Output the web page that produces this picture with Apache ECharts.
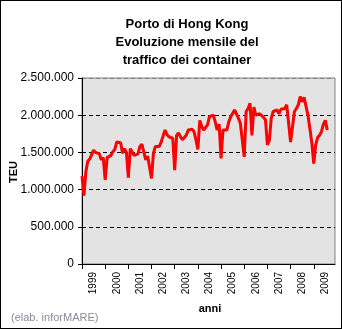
<!DOCTYPE html>
<html>
<head>
<meta charset="utf-8">
<script src="https://cdn.jsdelivr.net/npm/echarts@6/dist/echarts.min.js"></script>
<style>
html,body{margin:0;padding:0;background:#fff;}
#wrap{width:340px;height:327px;border:1px solid #000;position:relative;}
#chart{width:340px;height:327px;}
</style>
</head>
<body>
<div id="wrap"><div id="chart"></div></div>
<script>
// Years shown on the axis
var years = ['1999','2000','2001','2002','2003','2004','2005','2006','2007','2008','2009'];
// Monthly TEU (millions), Jan 1999 ... Aug 2009
var teu1999 = [1.18, 0.92, 1.24, 1.38, 1.41, 1.42, 1.53, 1.50, 1.51, 1.48, 1.40, 1.43];
var teu2000 = [1.13, 1.43, 1.44, 1.46, 1.51, 1.54, 1.64, 1.64, 1.63, 1.49, 1.55, 1.50];
var teu2001 = [1.16, 1.55, 1.54, 1.46, 1.44, 1.48, 1.58, 1.61, 1.62, 1.40, 1.45, 1.43];
var teu2002 = [1.15, 1.49, 1.58, 1.56, 1.58, 1.64, 1.72, 1.80, 1.74, 1.71, 1.71, 1.69];
var teu2003 = [1.26, 1.73, 1.76, 1.71, 1.67, 1.67, 1.73, 1.80, 1.78, 1.81, 1.78, 1.67];
var teu2004 = [1.54, 1.93, 1.85, 1.80, 1.81, 1.87, 1.98, 1.96, 2.00, 1.91, 1.80, 1.88];
var teu2005 = [1.42, 1.80, 1.82, 1.80, 1.91, 1.98, 1.97, 2.07, 2.07, 1.96, 1.89, 1.89];
var teu2006 = [1.44, 2.05, 2.09, 2.16, 1.73, 2.11, 2.00, 1.98, 2.02, 2.02, 1.97, 1.94];
var teu2007 = [1.60, 1.66, 1.96, 2.05, 2.05, 2.07, 2.02, 2.08, 2.07, 2.09, 2.14, 2.12];
var teu2008 = [1.64, 1.66, 2.05, 2.09, 2.14, 2.25, 2.18, 2.24, 2.23, 2.00, 1.82, 1.63];
var teu2009 = [1.35, 1.60, 1.70, 1.73, 1.78, 1.88, 1.93, 1.80];

var series = [].concat(teu1999, teu2000, teu2001, teu2002, teu2003, teu2004,
  teu2005, teu2006, teu2007, teu2008, teu2009).map(function(v){ return Math.round(v*1e6); });

var categories = [];
years.forEach(function(y){ for (var m = 1; m <= 12; m++) categories.push(y + '-' + (m < 10 ? '0' + m : m)); });
var data = categories.map(function(c, i){ return i < series.length ? series[i] : null; });

function fmt(v){
  return String(v).replace(/\B(?=(\d{3})+(?!\d))/g, '.');
}

var chart = echarts.init(document.getElementById('chart'));
chart.setOption({
  animation: false,
  backgroundColor: '#fff',
  textStyle: {fontFamily: 'Liberation Sans, Arial, sans-serif'},
  grid: {left: 81, top: 77, width: 253, height: 186, show: true, containLabel: false,
    outerBoundsMode: 'none',
    backgroundColor: '#e3e3e3', borderColor: '#808080', borderWidth: 1},
  xAxis: {
    type: 'category', data: categories, boundaryGap: false,
    axisLine: {lineStyle: {color: '#000', width: 1}},
    axisTick: {show: true, length: 5, lineStyle: {color: '#000'},
      interval: function(i){ return i % 12 === 0; }},
    axisLabel: {rotate: 90, fontSize: 10, color: '#000', margin: 8,
      fontFamily: 'Liberation Sans, Arial',
      interval: function(i){ return i % 12 === 6; },
      formatter: function(v){ return v.slice(0,4); }},
    splitLine: {show: false}
  },
  yAxis: {
    type: 'value', min: 0, max: 2500000, interval: 500000,
    axisLine: {show: true, lineStyle: {color: '#000', width: 1}},
    axisTick: {show: true, length: 4, lineStyle: {color: '#000'}},
    axisLabel: {fontSize: 12, color: '#000', margin: 8, formatter: fmt,
      fontFamily: 'Liberation Sans, Arial'},
    splitLine: {show: true, lineStyle: {color: ['#000','#000','#000','#000','#000','#808080'], type: [4,3], width: 1}}
  },
  graphic: [
    {type: 'text', x: 186, y: 17, style: {text: 'Porto di Hong Kong', fill: '#000',
      font: 'bold 13px Liberation Sans, Arial', textAlign: 'center'}},
    {type: 'text', x: 186, y: 35, style: {text: 'Evoluzione mensile del', fill: '#000',
      font: 'bold 13px Liberation Sans, Arial', textAlign: 'center'}},
    {type: 'text', x: 186, y: 53, style: {text: 'traffico dei container', fill: '#000',
      font: 'bold 13px Liberation Sans, Arial', textAlign: 'center'}},
    {type: 'text', x: 13, y: 171, rotation: Math.PI / 2, style: {text: 'TEU', fill: '#000',
      font: 'bold 11px Liberation Sans, Arial', textAlign: 'center', textVerticalAlign: 'middle'}},
    {type: 'text', x: 209, y: 308, style: {text: 'anni', fill: '#000',
      font: 'bold 11px Liberation Sans, Arial', textAlign: 'center', textVerticalAlign: 'middle'}},
    {type: 'text', x: 10, y: 311, style: {text: '(elab. inforMARE)', fill: '#8a8a9a',
      font: '11px Liberation Sans, Arial'}}
  ],
  series: [{
    type: 'line', data: data, symbol: 'none', connectNulls: false,
    lineStyle: {color: '#ff0000', width: 3, join: 'bevel'},
    itemStyle: {color: '#ff0000'}
  }]
});
</script>
</body>
</html>
